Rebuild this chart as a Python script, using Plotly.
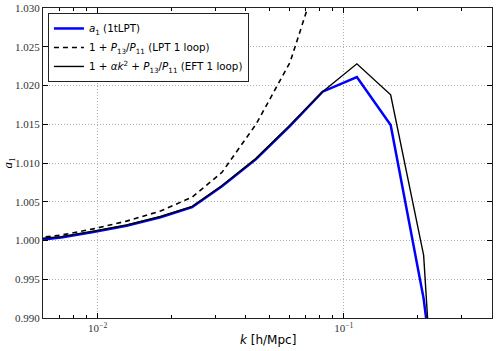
import plotly.graph_objects as go

# wavenumbers k [h/Mpc]
k = [0.0052, 0.0071, 0.0096, 0.0131, 0.0180, 0.0242, 0.0320, 0.0440,
     0.0605, 0.0820, 0.1130, 0.1550, 0.2110, 0.2250]

# a1 from 1tLPT (blue)
a1_tlpt = [0.9999, 1.0004, 1.0011, 1.0019, 1.0030, 1.0043, 1.0070, 1.0105,
           1.0148, 1.0192, 1.0211, 1.0149, 0.9925, 0.9855]
# 1 + alpha k^2 + P13/P11 (EFT 1 loop, solid black)
eft_1loop = [1.0001, 1.0005, 1.0012, 1.0020, 1.0031, 1.0044, 1.0071, 1.0106,
             1.0149, 1.0192, 1.0228, 1.0188, 0.9981, 0.9840]

# 1 + P13/P11 (LPT 1 loop, dashed) - leaves the frame at the top
k_lpt = [0.0052, 0.0071, 0.0096, 0.0131, 0.0180, 0.0242, 0.0320, 0.0440,
         0.0605, 0.0820]
lpt_1loop = [1.0002, 1.0007, 1.0015, 1.0025, 1.0038, 1.0056, 1.0088, 1.0150,
             1.0230, 1.0360]

# log-axis minor tick positions
minor_k = [0.006, 0.007, 0.008, 0.009, 0.02, 0.03, 0.04, 0.05, 0.06, 0.07,
           0.08, 0.09, 0.2, 0.3, 0.4]

fig = go.Figure()
fig.add_trace(go.Scatter(x=k, y=a1_tlpt, mode="lines",
                         line=dict(color="#0000ff", width=2.5),
                         name="<i>a</i><sub>1</sub> (1tLPT)"))
fig.add_trace(go.Scatter(x=k_lpt, y=lpt_1loop, mode="lines",
                         line=dict(color="black", width=1.6, dash="5px,4px"),
                         name="1 + <i>P</i><sub>13</sub>/<i>P</i><sub>11</sub> (LPT 1 loop)"))
fig.add_trace(go.Scatter(x=k, y=eft_1loop, mode="lines",
                         line=dict(color="black", width=1.4),
                         name="1 + <i>αk</i><sup>2</sup> + <i>P</i><sub>13</sub>/<i>P</i><sub>11</sub> (EFT 1 loop)"))

tick_font = dict(family="Liberation Serif", size=11, color="#333333")

fig.update_layout(
    width=497, height=351,
    margin=dict(l=43, r=5, t=8, b=33, autoexpand=False),
    plot_bgcolor="white", paper_bgcolor="white",
    font=dict(family="DejaVu Sans", size=11, color="black"),
    showlegend=True,
    legend=dict(x=0.011, y=0.984, xanchor="left", yanchor="top",
                bgcolor="white", bordercolor="#222222", borderwidth=1,
                font=dict(family="DejaVu Sans", size=10.3), itemwidth=30,
                tracegroupgap=0),
    xaxis=dict(type="log", range=[-2.222, -0.398], automargin=False,
               tickvals=[0.01, 0.1], ticktext=["10<sup>−2</sup>", "10<sup>−1</sup>"],
               ticks="inside", ticklen=5, tickcolor="black",
               minor=dict(tickmode="array", tickvals=minor_k, ticks="inside",
                          ticklen=2.5, tickcolor="black", showgrid=False),
               showgrid=True, gridcolor="#b0b0b0", griddash="1px,2px", gridwidth=1,
               showline=True, linecolor="#222222", linewidth=1.2, mirror="allticks",
               tickfont=tick_font, zeroline=False),
    yaxis=dict(range=[0.990, 1.030], automargin=False,
               tickvals=[0.990, 0.995, 1.000, 1.005, 1.010, 1.015, 1.020, 1.025, 1.030],
               tickformat=".3f",
               ticks="inside", ticklen=5, tickcolor="black",
               showgrid=True, gridcolor="#b0b0b0", griddash="1px,2px", gridwidth=1,
               showline=True, linecolor="#222222", linewidth=1.2, mirror="allticks",
               tickfont=tick_font, zeroline=False),
    annotations=[
        dict(text="<i>k</i> [h/Mpc]", xref="paper", yref="paper", x=0.5, y=-0.071,
             xanchor="center", yanchor="middle", showarrow=False,
             font=dict(family="DejaVu Sans", size=12)),
        dict(text="<i>a</i><sub>1</sub>", xref="paper", yref="paper", x=-0.077, y=0.5,
             xanchor="center", yanchor="middle", showarrow=False, textangle=-90,
             font=dict(family="Liberation Serif", size=13)),
    ],
)

# page has a default body margin; remove it so the figure sits at the window origin
fig.write_html("out.html", config={"displayModeBar": False},
               post_script="document.body.style.margin='0';")
